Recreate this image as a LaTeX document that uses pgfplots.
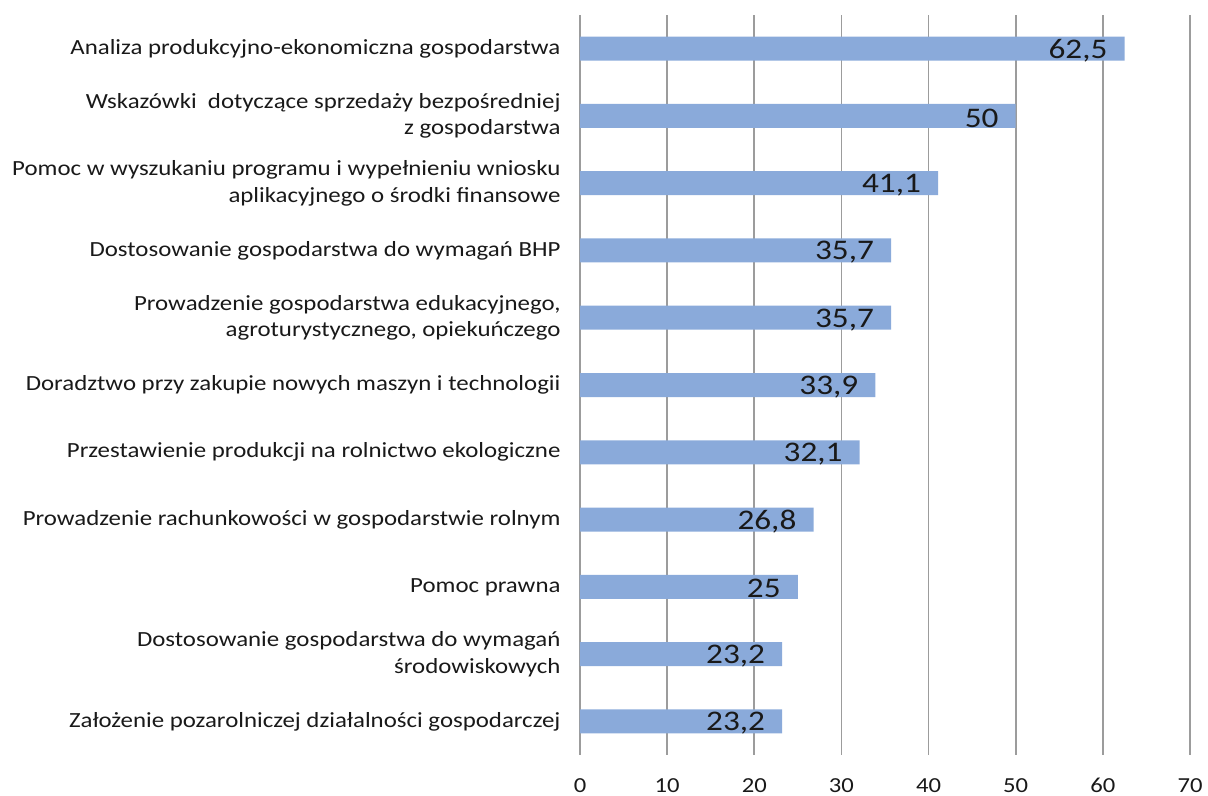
\documentclass[border=0pt]{standalone}
\usepackage{fontspec}
\setmainfont{Carlito}[FakeStretch=1.15]
\newfontfamily\valfont{Carlito}[FakeStretch=1.17]
\usepackage{pgfplots}
\pgfplotsset{compat=1.18}
\definecolor{barblue}{HTML}{8AAADA}
\definecolor{gridgray}{HTML}{9C9C9C}
\begin{document}
\begin{tikzpicture}
\begin{axis}[
  scale only axis,
  width=610bp, height=740bp,
  xbar, bar width=24bp,
  xmin=0, xmax=70,
  ymin=-0.5, ymax=10.5,
  y dir=reverse,
  xtick={0,10,...,70},
  ytick={0,...,10},
  yticklabels={
    {Analiza produkcyjno-ekonomiczna gospodarstwa},
    {Wskazówki\ \ dotyczące sprzedaży bezpośredniej\\ z gospodarstwa},
    {Pomoc w wyszukaniu programu i wypełnieniu wniosku\\ aplikacyjnego o środki finansowe},
    {Dostosowanie gospodarstwa do wymagań BHP},
    {Prowadzenie gospodarstwa edukacyjnego,\\ agroturystycznego, opiekuńczego},
    {Doradztwo przy zakupie nowych maszyn i technologii},
    {Przestawienie produkcji na rolnictwo ekologiczne},
    {Prowadzenie rachunkowości w gospodarstwie rolnym},
    {Pomoc prawna},
    {Dostosowanie gospodarstwa do wymagań\\ środowiskowych},
    {Założenie pozarolniczej działalności gospodarczej}
  },
  major tick length=0pt,
  axis line style={draw=none},
  xmajorgrids,
  major grid style={draw=gridgray, line width=1.6bp},
  /pgf/number format/assume math mode=true,
  /pgf/number format/use comma,
  yticklabel style={align=right, font=\fontsize{21.7}{26.5}\selectfont, text=black!90, xshift=-16bp},
  xticklabel style={font=\fontsize{21.5}{24}\selectfont, text=black!90, yshift=-20bp},
  nodes near coords,
  nodes near coords style={anchor=east, inner sep=0pt, xshift=-17bp, yshift=-2bp, font=\valfont\fontsize{28.5}{30}\selectfont, text=black!90},
  clip=false,
]
\addplot[fill=barblue, draw=none] coordinates {
  (62.5,0) (50,1) (41.1,2) (35.7,3) (35.7,4) (33.9,5)
  (32.1,6) (26.8,7) (25,8) (23.2,9) (23.2,10)
};
\end{axis}
\pgfresetboundingbox
\useasboundingbox (-580bp,-41bp) rectangle (628bp,755bp);
\end{tikzpicture}
\end{document}
